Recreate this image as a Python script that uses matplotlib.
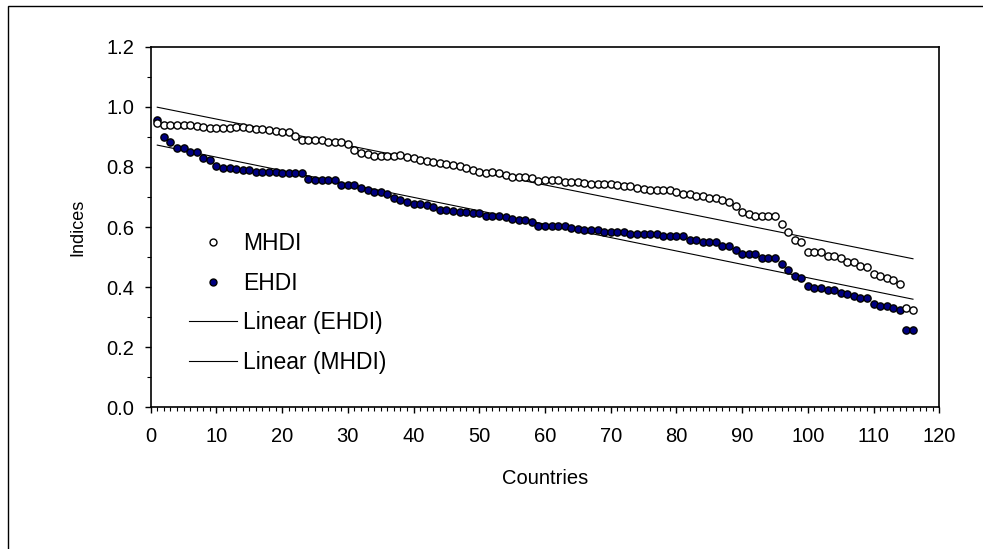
import numpy as np
import matplotlib
matplotlib.use("Agg")
import matplotlib.pyplot as plt
from matplotlib.patches import Rectangle
from matplotlib.lines import Line2D
from matplotlib.ticker import MultipleLocator

countries = list(range(1, 117))

mhdi = [0.945, 0.940, 0.940, 0.940, 0.940, 0.938, 0.936, 0.932, 0.931, 0.931,
        0.931, 0.931, 0.933, 0.933, 0.931, 0.925, 0.925, 0.924, 0.920, 0.915,
        0.915, 0.903, 0.890, 0.890, 0.890, 0.889, 0.884, 0.882, 0.882, 0.876,
        0.856, 0.847, 0.842, 0.837, 0.837, 0.837, 0.837, 0.840, 0.832, 0.830,
        0.823, 0.820, 0.817, 0.812, 0.811, 0.806, 0.803, 0.797, 0.790, 0.784,
        0.779, 0.783, 0.780, 0.773, 0.767, 0.768, 0.765, 0.762, 0.754, 0.755,
        0.758, 0.755, 0.749, 0.749, 0.750, 0.748, 0.743, 0.743, 0.743, 0.743,
        0.740, 0.737, 0.735, 0.729, 0.725, 0.724, 0.723, 0.723, 0.722, 0.715,
        0.710, 0.710, 0.704, 0.703, 0.695, 0.695, 0.690, 0.682, 0.670, 0.650,
        0.642, 0.637, 0.637, 0.637, 0.637, 0.610, 0.583, 0.557, 0.551, 0.516,
        0.518, 0.518, 0.503, 0.503, 0.496, 0.485, 0.485, 0.471, 0.466, 0.444,
        0.437, 0.429, 0.424, 0.409, 0.329, 0.324]

ehdi = [0.956, 0.898, 0.884, 0.864, 0.864, 0.851, 0.851, 0.829, 0.823, 0.803,
        0.797, 0.795, 0.792, 0.791, 0.790, 0.784, 0.784, 0.784, 0.784, 0.781,
        0.779, 0.779, 0.779, 0.760, 0.757, 0.757, 0.757, 0.757, 0.740, 0.739,
        0.740, 0.729, 0.723, 0.718, 0.718, 0.710, 0.695, 0.690, 0.684, 0.677,
        0.677, 0.673, 0.666, 0.657, 0.657, 0.654, 0.651, 0.651, 0.646, 0.645,
        0.637, 0.638, 0.637, 0.632, 0.626, 0.623, 0.622, 0.618, 0.603, 0.603,
        0.603, 0.604, 0.603, 0.596, 0.595, 0.590, 0.590, 0.590, 0.584, 0.583,
        0.583, 0.582, 0.577, 0.577, 0.577, 0.577, 0.577, 0.570, 0.570, 0.570,
        0.570, 0.557, 0.557, 0.551, 0.551, 0.551, 0.537, 0.537, 0.523, 0.509,
        0.509, 0.509, 0.496, 0.496, 0.496, 0.477, 0.457, 0.437, 0.431, 0.404,
        0.396, 0.396, 0.390, 0.390, 0.381, 0.377, 0.370, 0.363, 0.363, 0.344,
        0.337, 0.337, 0.331, 0.324, 0.257, 0.257]

series_labels = ["MHDI", "EHDI", "Linear (EHDI)", "Linear (MHDI)"]
x_label = "Countries"
y_label = "Indices"

plt.rcParams['font.family'] = ['Liberation Sans', 'DejaVu Sans']

fig = plt.figure(figsize=(9.83, 5.49), dpi=100)
fig.patch.set_facecolor('white')
# outer chart border
fig.patches.append(Rectangle((8/983, -0.02), 1.05, 1 - 6/549 + 0.02,
                             transform=fig.transFigure, fill=False,
                             edgecolor='black', lw=1.0, zorder=0))

ax = fig.add_axes([0.1533, 0.2581, 0.8022, 0.6568])

x = np.array(countries, dtype=float)
m = np.array(mhdi)
e = np.array(ehdi)

cm = np.polyfit(x, m, 1)
ce = np.polyfit(x, e, 1)
xl = np.array([x[0], x[-1]])

ax.plot(xl, np.polyval(ce, xl), color='black', lw=0.8, zorder=2)
ax.plot(xl, np.polyval(cm, xl), color='black', lw=0.8, zorder=2)
ax.plot(x, e, linestyle='none', marker='o', markersize=5.2,
        markerfacecolor='#000080', markeredgecolor='black', markeredgewidth=1.0, zorder=3)
ax.plot(x, m, linestyle='none', marker='o', markersize=5.2,
        markerfacecolor='white', markeredgecolor='black', markeredgewidth=1.0, zorder=4)

ax.set_xlim(0, 120)
ax.set_ylim(0, 1.2)
ax.xaxis.set_major_locator(MultipleLocator(10))
ax.xaxis.set_minor_locator(MultipleLocator(1))
ax.yaxis.set_major_locator(MultipleLocator(0.2))
ax.yaxis.set_minor_locator(MultipleLocator(0.1))
ax.yaxis.set_major_formatter(matplotlib.ticker.FormatStrFormatter('%.1f'))
ax.tick_params(axis='both', which='major', direction='out', length=4, width=1,
               labelsize=14.5)
ax.tick_params(axis='x', which='major', pad=10)
ax.tick_params(axis='y', which='major', pad=8)
ax.tick_params(axis='both', which='minor', direction='out', length=3, width=0.8)
for s in ax.spines.values():
    s.set_linewidth(1.2)
    s.set_color('black')

ax.set_xlabel(x_label, fontsize=14.5, labelpad=17)
ax.set_ylabel(y_label, fontsize=13, labelpad=14)

handles = [
    Line2D([], [], linestyle='none', marker='o', markersize=5,
           markerfacecolor='white', markeredgecolor='black', markeredgewidth=1.0),
    Line2D([], [], linestyle='none', marker='o', markersize=5,
           markerfacecolor='#000080', markeredgecolor='black', markeredgewidth=1.0),
    Line2D([], [], color='black', lw=0.8),
    Line2D([], [], color='black', lw=0.8),
]
ax.legend(handles, series_labels, loc='upper left',
          bbox_to_anchor=(0.0486, 0.486), frameon=False, fontsize=16.5,
          handlelength=2.1, handletextpad=0.26, labelspacing=0.72,
          borderpad=0, borderaxespad=0)

fig.savefig('out.png', dpi=100, facecolor='white')
